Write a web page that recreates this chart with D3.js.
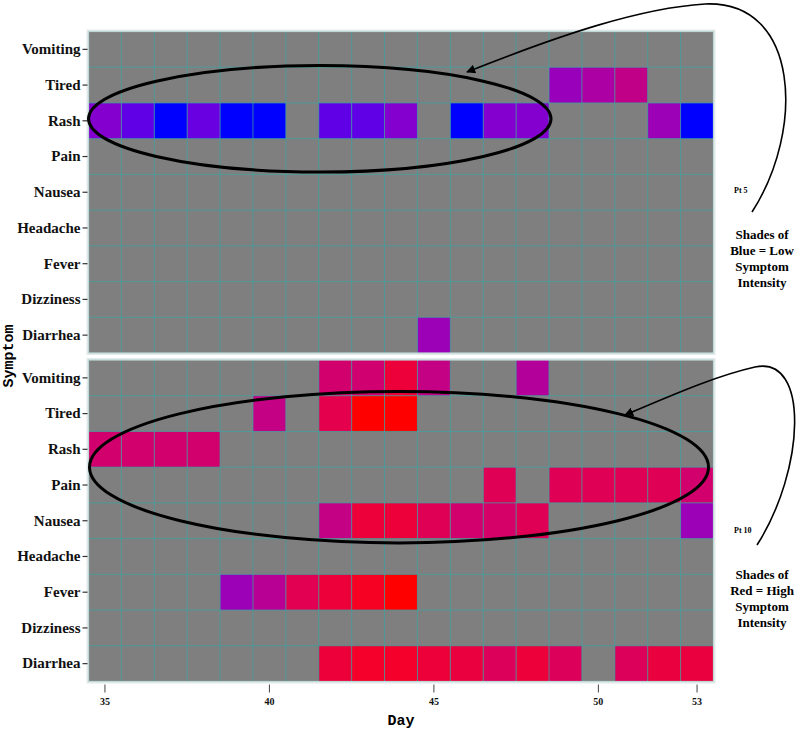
<!DOCTYPE html>
<html>
<head>
<meta charset="utf-8">
<script src="https://cdn.jsdelivr.net/npm/d3@7/dist/d3.min.js"></script>
<style>
  body { margin: 0; background: #ffffff; }
  svg { display: block; }
</style>
</head>
<body>
<svg id="chart" width="800" height="729"></svg>
<script>
// ---------- DATA ----------
const days = [35,36,37,38,39,40,41,42,43,44,45,46,47,48,49,50,51,52,53];
const symptoms = ["Vomiting","Tired","Rash","Pain","Nausea","Headache","Fever","Dizziness","Diarrhea"];
const xTickValues = [35,40,45,50,53];
const patients = ["Pt 5","Pt 10"];
const legendTop = ["Shades of","Blue = Low","Symptom","Intensity"];
const legendBottom = ["Shades of","Red = High","Symptom","Intensity"];

// intensity 0 (blue) .. 1 (red); [symptom, day, intensity]
const pt5 = [
  ["Rash",35,0.20],["Rash",36,0.10],["Rash",37,0.00],["Rash",38,0.12],["Rash",39,0.00],["Rash",40,0.00],
  ["Rash",42,0.10],["Rash",43,0.10],["Rash",44,0.20],["Rash",46,0.00],["Rash",47,0.20],["Rash",48,0.20],
  ["Rash",52,0.30],["Rash",53,0.00],
  ["Tired",49,0.28],["Tired",50,0.38],["Tired",51,0.50],
  ["Diarrhea",45,0.30]
];
const pt10 = [
  ["Vomiting",42,0.62],["Vomiting",43,0.60],["Vomiting",44,0.84],["Vomiting",45,0.52],["Vomiting",48,0.42],
  ["Tired",40,0.52],["Tired",42,0.76],["Tired",43,1.00],["Tired",44,1.00],
  ["Rash",35,0.62],["Rash",36,0.62],["Rash",37,0.62],["Rash",38,0.62],
  ["Pain",47,0.72],["Pain",49,0.72],["Pain",50,0.72],["Pain",51,0.72],["Pain",52,0.72],["Pain",53,0.62],
  ["Nausea",42,0.52],["Nausea",43,0.84],["Nausea",44,0.84],["Nausea",45,0.72],["Nausea",46,0.62],
  ["Nausea",47,0.64],["Nausea",48,0.72],["Nausea",53,0.30],
  ["Fever",39,0.30],["Fever",40,0.45],["Fever",41,0.74],["Fever",42,0.84],["Fever",43,0.92],["Fever",44,1.00],
  ["Diarrhea",42,0.84],["Diarrhea",43,0.90],["Diarrhea",44,0.90],["Diarrhea",45,0.84],["Diarrhea",46,0.82],
  ["Diarrhea",47,0.70],["Diarrhea",48,0.84],["Diarrhea",49,0.70],["Diarrhea",51,0.70],["Diarrhea",52,0.82],
  ["Diarrhea",53,0.82]
];

// ---------- LAYOUT ----------
const svg = d3.select("#chart");
const left = 88.5, right = 713.5;
const panels = [
  {data: pt5, top: 31.5, bottom: 353},
  {data: pt10, top: 360, bottom: 681.5}
];
const x = d3.scaleBand().domain(days).range([left, right]).padding(0);
const color = d3.scaleLinear().domain([0,1]).range(["#0000ff","#ff0000"]).interpolate(d3.interpolateLab);
const serif = "'Liberation Serif', 'Times New Roman', Times, serif";
const mono = "'Liberation Mono', 'Courier New', monospace";
const gridColor = "#3fa3a0";

panels.forEach((p, i) => {
  const y = d3.scaleBand().domain(symptoms).range([p.top, p.bottom]).padding(0);
  p.y = y;
  const g = svg.append("g");
  g.append("rect").attr("x", left - 2).attr("y", p.top - 2)
    .attr("width", right - left + 4).attr("height", p.bottom - p.top + 4)
    .attr("fill", "#e4eaea");
  g.append("rect").attr("x", left).attr("y", p.top)
    .attr("width", right - left).attr("height", p.bottom - p.top)
    .attr("fill", "#7f7f7f");
  g.selectAll("rect.tile").data(p.data).join("rect").attr("class","tile")
    .attr("x", d => x(d[1])).attr("y", d => y(d[0]))
    .attr("width", x.bandwidth()).attr("height", y.bandwidth())
    .attr("fill", d => color(d[2]));
  const vx = days.map(d => x(d));
  g.selectAll("line.v").data(vx.slice(1)).join("line").attr("class","v")
    .attr("x1", d => d).attr("x2", d => d).attr("y1", p.top).attr("y2", p.bottom)
    .attr("stroke", gridColor).attr("stroke-width", 1).attr("stroke-opacity", 0.75);
  const hy = symptoms.map(s => y(s)).slice(1);
  g.selectAll("line.h").data(hy).join("line").attr("class","h")
    .attr("y1", d => d).attr("y2", d => d).attr("x1", left).attr("x2", right)
    .attr("stroke", gridColor).attr("stroke-width", 1).attr("stroke-opacity", 0.75);
  g.append("rect").attr("x", left).attr("y", p.top)
    .attr("width", right - left).attr("height", p.bottom - p.top)
    .attr("fill", "none").attr("stroke", "#bcd8d6").attr("stroke-width", 1.2);

  const ya = svg.append("g").attr("transform", `translate(${left - 1},0)`)
    .call(d3.axisLeft(y).tickSize(5).tickPadding(2));
  ya.select(".domain").remove();
  ya.selectAll(".tick line").attr("stroke", "#333").attr("stroke-width", 1.2);
  ya.selectAll(".tick text").attr("font-family", serif).attr("font-weight", "bold")
    .attr("font-size", 15).attr("fill", "#111");
});

// x axis
const xa = svg.append("g").attr("transform", `translate(0,${panels[1].bottom + 3})`)
  .call(d3.axisBottom(x).tickValues(xTickValues).tickSize(8).tickPadding(5));
xa.select(".domain").remove();
xa.selectAll(".tick line").attr("stroke", "#444").attr("stroke-width", 1);
xa.selectAll(".tick text").attr("font-family", serif).attr("font-weight", "bold")
  .attr("font-size", 10).attr("fill", "#111");

// axis titles
svg.append("text").attr("x", 401).attr("y", 725).attr("text-anchor", "middle")
  .attr("font-family", mono).attr("font-weight", "bold").attr("font-size", 15).text("Day");
svg.append("text").attr("transform", "translate(13,356) rotate(-90)").attr("text-anchor", "middle")
  .attr("font-family", mono).attr("font-weight", "bold").attr("font-size", 15).text("Symptom");

// ---------- ANNOTATIONS ----------
const defs = svg.append("defs");
defs.append("marker").attr("id", "ah").attr("viewBox", "0 0 10 10")
  .attr("refX", 9).attr("refY", 5).attr("markerWidth", 9).attr("markerHeight", 9)
  .attr("markerUnits", "userSpaceOnUse").attr("orient", "auto")
  .append("path").attr("d", "M0,0 L10,5 L0,10 z").attr("fill", "#000");

const yTop = panels[0].y, yBot = panels[1].y;
svg.append("ellipse")
  .attr("cx", (x(35) + x(48) + x.bandwidth()) / 2 + 1)
  .attr("cy", yTop("Rash") + yTop.bandwidth() / 2 - 2)
  .attr("rx", (x(48) + x.bandwidth() - x(35)) / 2 + 1)
  .attr("ry", yTop.bandwidth() * 1.49)
  .attr("fill", "none").attr("stroke", "#000").attr("stroke-width", 3);
svg.append("ellipse")
  .attr("cx", (x(35) + x(53) + x.bandwidth()) / 2 - 2)
  .attr("cy", yBot("Pain"))
  .attr("rx", (x(53) + x.bandwidth() - x(35)) / 2 - 3)
  .attr("ry", yBot.bandwidth() * 2.12)
  .attr("fill", "none").attr("stroke", "#000").attr("stroke-width", 3);

svg.append("path")
  .attr("d", "M752,212 C805,130 800,0 705,4 C640,8 560,35 467,72")
  .attr("fill", "none").attr("stroke", "#000").attr("stroke-width", 1.6)
  .attr("marker-end", "url(#ah)");
svg.append("path")
  .attr("d", "M757,545 C805,470 810,355 755,367 C715,376 670,396 625,415")
  .attr("fill", "none").attr("stroke", "#000").attr("stroke-width", 1.6)
  .attr("marker-end", "url(#ah)");

svg.append("text").attr("x", 734).attr("y", 193).attr("font-family", serif)
  .attr("font-weight", "bold").attr("font-size", 8).attr("fill", "#000").text(patients[0]);
svg.append("text").attr("x", 734).attr("y", 533).attr("font-family", serif)
  .attr("font-weight", "bold").attr("font-size", 8).attr("fill", "#000").text(patients[1]);

svg.append("g").selectAll("text").data(legendTop).join("text")
  .attr("x", 762).attr("y", (d, i) => 239 + i * 16).attr("text-anchor", "middle")
  .attr("font-family", serif).attr("font-weight", "bold").attr("font-size", 13).text(d => d);
svg.append("g").selectAll("text").data(legendBottom).join("text")
  .attr("x", 762).attr("y", (d, i) => 579 + i * 16).attr("text-anchor", "middle")
  .attr("font-family", serif).attr("font-weight", "bold").attr("font-size", 13).text(d => d);
</script>
</body>
</html>
